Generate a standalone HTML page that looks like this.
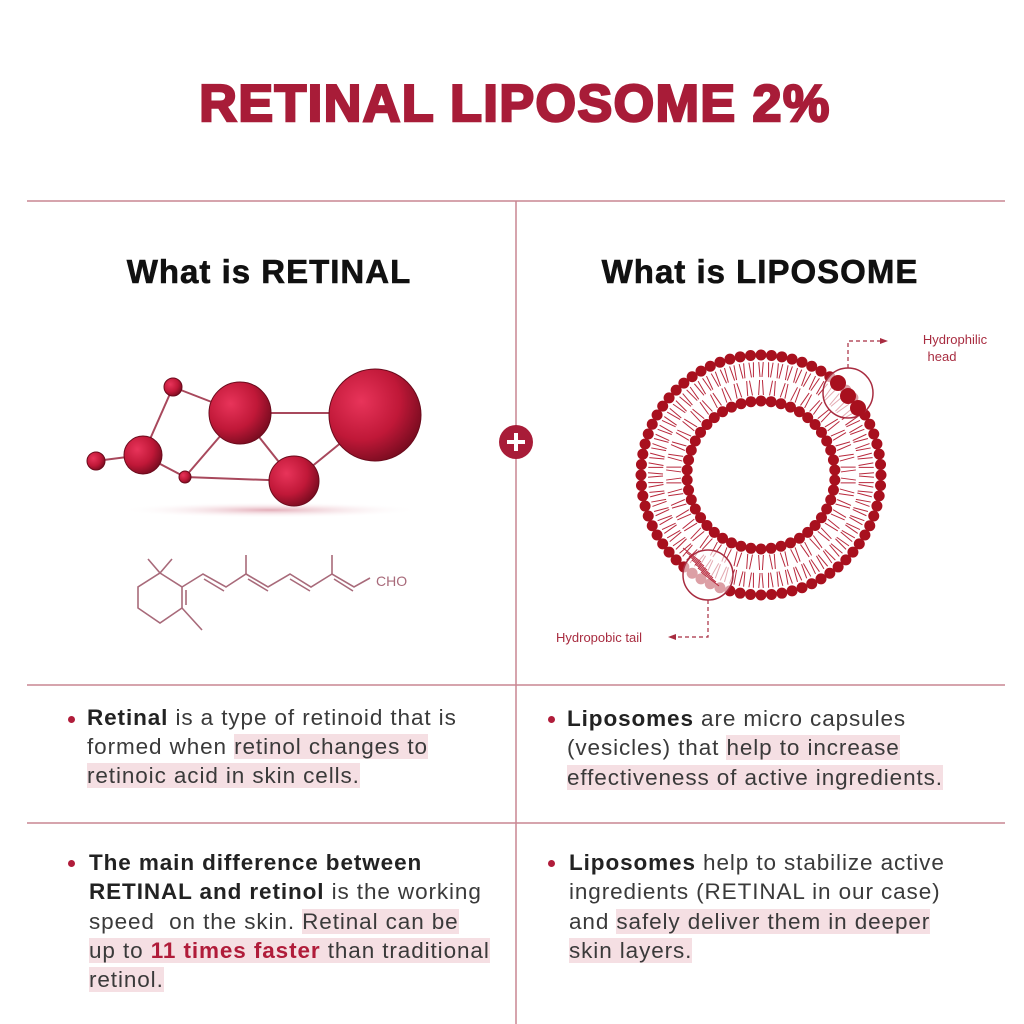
<!DOCTYPE html>
<html><head><meta charset="utf-8"><style>
body{margin:0;background:#fff;}
#c{position:relative;width:1024px;height:1024px;overflow:hidden;font-family:"Liberation Sans",sans-serif;}
.t{position:absolute;white-space:nowrap;font-size:22.5px;letter-spacing:0.9px;color:#3a3a3a;line-height:28px;}
.h{background:#f5dfe3;}
b{color:#222;}
.r{color:#b01c3a;font-weight:bold;}
.dot{position:absolute;width:7px;height:7px;border-radius:50%;background:#b01c3a;}
</style></head><body><div id="c">
<svg width="1024" height="1024" style="position:absolute;left:0;top:0" id="s">
<defs>
<radialGradient id="g" cx="35%" cy="35%" r="70%"><stop offset="0" stop-color="#e8345a"/><stop offset="0.6" stop-color="#c01838"/><stop offset="1" stop-color="#7a0c20"/></radialGradient>
<radialGradient id="sh" cx="50%" cy="50%" r="50%"><stop offset="0" stop-color="#d88a9a" stop-opacity="0.7"/><stop offset="1" stop-color="#fff" stop-opacity="0"/></radialGradient>
</defs>
<text x="515" y="121" text-anchor="middle" font-family="Liberation Sans" font-weight="bold" font-size="52" fill="#a81c38" stroke="#a81c38" stroke-width="2.5" letter-spacing="1.5">RETINAL LIPOSOME 2%</text>
<g stroke="#c98592" stroke-width="1.5">
<line x1="27" y1="201" x2="1005" y2="201"/><line x1="516" y1="201" x2="516" y2="1024"/>
<line x1="27" y1="685" x2="1005" y2="685"/><line x1="27" y1="823" x2="1005" y2="823"/>
</g>
<text x="269" y="283" text-anchor="middle" font-weight="bold" font-size="33" fill="#111" stroke="#111" stroke-width="0.6" letter-spacing="1">What is RETINAL</text>
<text x="760" y="283" text-anchor="middle" font-weight="bold" font-size="33" fill="#111" stroke="#111" stroke-width="0.6" letter-spacing="1">What is LIPOSOME</text>
<circle cx="516" cy="442" r="17" fill="#a81c38"/>
<path d="M516 433v18M507 442h18" stroke="#fff" stroke-width="4"/>
<ellipse cx="270" cy="510" rx="150" ry="8" fill="url(#sh)"/>
<g stroke="#a8485c" stroke-width="2">
<line x1="96" y1="461" x2="143" y2="455"/><line x1="143" y1="455" x2="173" y2="387"/><line x1="173" y1="387" x2="240" y2="413"/>
<line x1="143" y1="455" x2="185" y2="477"/><line x1="185" y1="477" x2="240" y2="413"/><line x1="185" y1="477" x2="294" y2="481"/>
<line x1="240" y1="413" x2="375" y2="413"/><line x1="240" y1="413" x2="294" y2="481"/><line x1="294" y1="481" x2="375" y2="415"/>
</g>
<g fill="url(#g)" stroke="#6a0a1c" stroke-width="1">
<circle cx="173" cy="387" r="9"/><circle cx="240" cy="413" r="31"/><circle cx="375" cy="415" r="46"/>
<circle cx="143" cy="455" r="19"/><circle cx="96" cy="461" r="9"/><circle cx="185" cy="477" r="6"/><circle cx="294" cy="481" r="25"/>
</g>
<g stroke="#a86a7a" stroke-width="1.6" fill="none">
<path d="M160 573L182 587L182 608L160 623L138 608L138 587Z"/>
<path d="M148 559L160 573L172 559M182 608L202 630M186 590L186 605"/>
<path d="M182 587L203 574L226 587L246 574L268 587L290 574L311 587L332 574L354 587L370 578"/>
<path d="M204 579L224 591M246 574L246 555M248 579L268 591M290 579L310 591M332 574L332 555M334 579L353 591"/>
</g>
<text x="376" y="586" font-size="14" fill="#a86a7a">CHO</text>
<g id="lip"></g>
<g stroke="#a82c40" stroke-width="1.2" fill="none" stroke-dasharray="4,3">
<path d="M848 368V341H880"/><path d="M708 600V637H676"/>
</g>
<path d="M888 341l-8-3v6z M668 637l8-3v6z" fill="#a82c40"/>
<text x="955" y="344" text-anchor="middle" font-size="13" fill="#a82c40">Hydrophilic</text>
<text x="942" y="361" text-anchor="middle" font-size="13" fill="#a82c40">head</text>
<text x="556" y="642" font-size="13" fill="#a82c40">Hydropobic tail</text>
</svg>
<div class="dot" style="left:68px;top:716px"></div>
<div class="t" style="left:87px;top:704px"><b>Retinal</b> is a type of retinoid that is</div>
<div class="t" style="left:87px;top:733px">formed when <span class="h">retinol changes to</span></div>
<div class="t" style="left:87px;top:762px"><span class="h">retinoic acid in skin cells.</span></div>
<div class="dot" style="left:68px;top:860px"></div>
<div class="t" style="left:89px;top:849px"><b>The main difference between</b></div>
<div class="t" style="left:89px;top:878px"><b>RETINAL and retinol</b> is the working</div>
<div class="t" style="left:89px;top:908px">speed &nbsp;on the skin. <span class="h">Retinal can be </span></div>
<div class="t" style="left:89px;top:937px"><span class="h">up to <span class="r">11 times faster</span> than traditional</span></div>
<div class="t" style="left:89px;top:966px"><span class="h">retinol.</span></div>
<div class="dot" style="left:548px;top:716px"></div>
<div class="t" style="left:567px;top:705px"><b>Liposomes</b> are micro capsules</div>
<div class="t" style="left:567px;top:734px">(vesicles) that <span class="h">help to increase</span></div>
<div class="t" style="left:567px;top:764px"><span class="h">effectiveness of active ingredients.</span></div>
<div class="dot" style="left:548px;top:860px"></div>
<div class="t" style="left:569px;top:849px"><b>Liposomes</b> help to stabilize active</div>
<div class="t" style="left:569px;top:878px">ingredients (RETINAL in our case)</div>
<div class="t" style="left:569px;top:908px">and <span class="h">safely deliver them in deeper</span></div>
<div class="t" style="left:569px;top:937px"><span class="h">skin layers.</span></div>
</div>
<script>
var g=document.getElementById('lip'),cx=761,cy=475,s='';
function P(a,r){return [cx+r*Math.cos(a),cy+r*Math.sin(a)];}
var n=72;
for(var i=0;i<n;i++){var a=i/n*2*Math.PI,d=0.02;
 var p1=P(a-d,113),p2=P(a-d/2,98),p3=P(a+d,113),p4=P(a+d/2,98);
 s+='<path d="M'+p1+'L'+p2+'M'+p3+'L'+p4+'" stroke="#b8283c" stroke-width="1"/>';
 var o=P(a,120);s+='<circle cx="'+o[0]+'" cy="'+o[1]+'" r="5.5" fill="#a8101e"/>';}
var m=46;
for(var i=0;i<m;i++){var a=(i+0.5)/m*2*Math.PI,d=0.03;
 var p1=P(a-d,80),p2=P(a-d/2,95),p3=P(a+d,80),p4=P(a+d/2,95);
 s+='<path d="M'+p1+'L'+p2+'M'+p3+'L'+p4+'" stroke="#b8283c" stroke-width="1"/>';
 var o=P(a,74);s+='<circle cx="'+o[0]+'" cy="'+o[1]+'" r="5.5" fill="#a8101e"/>';}
s+='<circle cx="848" cy="393" r="25" fill="#fff" fill-opacity="0.6" stroke="#a82c40" stroke-width="1.5"/>';
s+='<circle cx="838" cy="383" r="8" fill="#a8101e"/><circle cx="848" cy="396" r="8" fill="#a8101e"/><circle cx="858" cy="408" r="8" fill="#a8101e"/>';
s+='<circle cx="708" cy="575" r="25" fill="#fff" fill-opacity="0.6" stroke="#a82c40" stroke-width="1.5"/>';
for(var k=-3;k<=3;k++){s+='<path d="M'+(692+k*3)+' '+(560+k*4)+'l18 14" stroke="#b8283c" stroke-width="1"/>';}
g.innerHTML=s;
</script>
</body></html>
